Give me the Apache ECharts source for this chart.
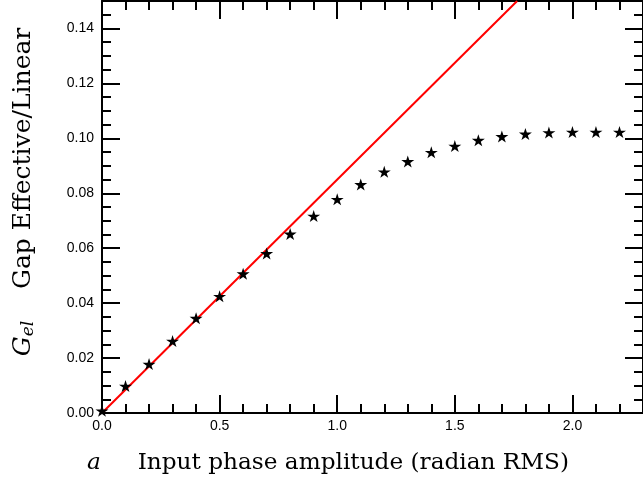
<!DOCTYPE html>
<html>
<head>
<meta charset="utf-8">
<script src="https://cdn.jsdelivr.net/npm/echarts@6/dist/echarts.min.js"></script>
<style>
  html, body { margin: 0; padding: 0; background: #fff; }
  #chart { width: 643px; height: 480px; }
</style>
</head>
<body>
<div id="chart"></div>
<script>
// input phase amplitude (radian RMS)
const amplitude = [0.0, 0.1, 0.2, 0.3, 0.4, 0.5, 0.6, 0.7, 0.8, 0.9, 1.0, 1.1,
  1.2, 1.3, 1.4, 1.5, 1.6, 1.7, 1.8, 1.9, 2.0, 2.1, 2.2];
// gap effective / linear (stars)
const gapEffective = [0.0008, 0.0098, 0.0178, 0.0262, 0.0345, 0.0425, 0.0507, 0.0581,
  0.0652, 0.0717, 0.0778, 0.0832, 0.0878, 0.0916, 0.0949, 0.0972, 0.0993, 0.1007,
  0.1016, 0.1021, 0.1023, 0.1023, 0.1023];
// linear reference (red line)
const linearX = [0, 1.765];
const linearY = [0, 0.15];

const star = 'path://M50,0 L61,35 L98,35 L68,57 L79,91 L50,70 L21,91 L32,57 L2,35 L39,35 Z';
const sans = 'Liberation Sans';
const serif = 'DejaVu Serif';

const chart = echarts.init(document.getElementById('chart'));

const xBase = { type: 'value', min: 0, max: 2.3, splitLine: { show: false } };
const yBase = { type: 'value', min: 0, max: 0.15, splitLine: { show: false } };
const line = { show: true, onZero: false, lineStyle: { color: '#000', width: 2 } };
const noLine = { show: false, onZero: false };
const tick = len => ({ inside: true, length: len, lineStyle: { color: '#000', width: 2 } });

chart.setOption({
  animation: false,
  backgroundColor: '#fff',
  grid: { left: 102, top: 1, width: 545, height: 412 },
  xAxis: [
    {
      ...xBase, position: 'bottom', interval: 0.5,
      axisLine: line, axisTick: tick(18),
      axisLabel: {
        color: '#000', fontFamily: sans, fontSize: 14, margin: 6,
        showMaxLabel: false, formatter: v => v.toFixed(1)
      },
      name: '{ai|a}     Input phase amplitude (radian RMS)',
      nameLocation: 'middle', nameGap: 38,
      nameTextStyle: {
        color: '#000', fontFamily: serif, fontSize: 23.2, padding: [0, 89, 0, 0],
        rich: { ai: { fontFamily: serif, fontStyle: 'italic', fontSize: 23.2, color: '#000' } }
      }
    },
    {
      ...xBase, position: 'bottom', interval: 0.1,
      axisLine: noLine, axisLabel: { show: false }, axisTick: tick(9)
    },
    {
      ...xBase, position: 'top', interval: 0.5,
      axisLine: line, axisLabel: { show: false }, axisTick: tick(18)
    },
    {
      ...xBase, position: 'top', interval: 0.1,
      axisLine: noLine, axisLabel: { show: false }, axisTick: tick(9)
    }
  ],
  yAxis: [
    {
      ...yBase, position: 'left', interval: 0.02,
      axisLine: line, axisTick: tick(18),
      axisLabel: {
        color: '#000', fontFamily: sans, fontSize: 14, margin: 8,
        showMaxLabel: false, formatter: v => v.toFixed(2)
      },
      name: '{gi|G}{sub|el}    Gap Effective/Linear',
      nameLocation: 'middle', nameRotate: 90, nameGap: 65,
      nameTextStyle: {
        color: '#000', fontFamily: serif, fontSize: 25, padding: [0, 0, 0, 30],
        rich: {
          gi: { fontFamily: serif, fontStyle: 'italic', fontSize: 25, color: '#000' },
          sub: { fontFamily: serif, fontStyle: 'italic', fontSize: 17, color: '#000', padding: [10, 0, 0, 0] }
        }
      }
    },
    {
      ...yBase, position: 'left', interval: 0.005,
      axisLine: noLine, axisLabel: { show: false }, axisTick: tick(9)
    },
    {
      ...yBase, position: 'right', interval: 0.02,
      axisLine: line, axisLabel: { show: false }, axisTick: tick(18)
    },
    {
      ...yBase, position: 'right', interval: 0.005,
      axisLine: noLine, axisLabel: { show: false }, axisTick: tick(9)
    }
  ],
  series: [
    {
      type: 'line',
      xAxisIndex: 0, yAxisIndex: 0,
      data: linearX.map((x, i) => [x, linearY[i]]),
      showSymbol: false,
      lineStyle: { color: '#ff0000', width: 2 },
      z: 2
    },
    {
      type: 'scatter',
      xAxisIndex: 0, yAxisIndex: 0,
      data: amplitude.map((x, i) => [x, gapEffective[i]]),
      symbol: star,
      symbolSize: [13, 12],
      itemStyle: { color: '#000', opacity: 1 },
      z: 3
    }
  ]
});
</script>
</body>
</html>
